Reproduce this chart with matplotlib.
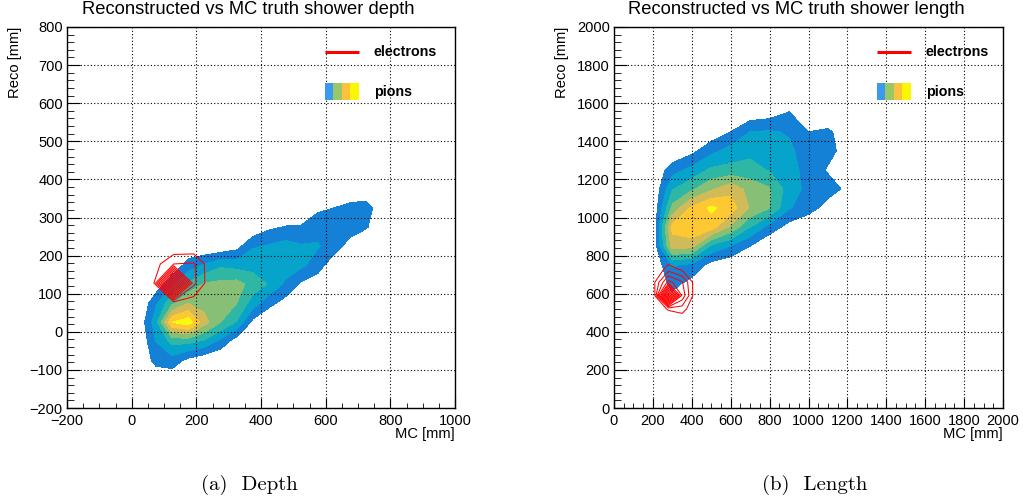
#!/usr/bin/env python3
"""Reconstructed vs MC truth shower depth / length, pions (filled) and electrons (lines)."""

import matplotlib

matplotlib.use("Agg")
import matplotlib.pyplot as plt
from matplotlib.patches import Rectangle
from matplotlib.ticker import MultipleLocator

plt.rcParams["font.family"] = ["Liberation Sans", "DejaVu Sans"]

# Filled contour bands for pions (kBird steps) and the line levels for electrons.
PION_LEVELS = [1, 2, 3, 4, 5, 6, 7, 100]
PION_COLORS = ["#1481d6", "#06a4ca", "#2eb7a4", "#87bf77", "#d1bb59", "#fec832", "#f9fb0e"]
ELECTRON_LEVELS = [8, 16, 24, 32, 40, 48, 56, 64, 72, 80, 88, 96]
SWATCH_COLORS = ["#3a9af0", "#98c868", "#fbc23f", "#fbf700"]

# --- shower depth, pions (bin centres in mm, contents in contour-level units)
DEPTH_PION_X = [25, 75, 125, 175, 225, 275, 325, 375, 425, 475, 525, 575, 625, 675, 725, 775]
DEPTH_PION_Y = [-125, -75, -25, 25, 75, 125, 175, 225, 275, 325, 375]
DEPTH_PION_Z = [
    [0, 0.1, 0.2, 0, 0, 0, 0, 0, 0, 0, 0, 0, 0, 0, 0, 0],
    [0, 1.4, 1.6, 0.7, 0.2, 0, 0, 0, 0, 0, 0, 0, 0, 0, 0, 0],
    [0.1, 2.0, 3.3, 3.3, 2.8, 1.7, 0.4, 0, 0, 0, 0, 0, 0, 0, 0, 0],
    [0.3, 2.6, 7.0, 7.6, 5.4, 4.0, 2.9, 0.7, 0, 0, 0, 0, 0, 0, 0, 0],
    [0, 1.8, 3.8, 5.0, 4.6, 4.6, 4.0, 2.5, 1.3, 0.6, 0, 0, 0, 0, 0, 0],
    [0, 0.3, 1.8, 3.2, 4.1, 4.3, 4.4, 3.6, 2.9, 1.8, 0.8, 0.4, 0, 0, 0, 0],
    [0, 0, 0.2, 1.4, 2.1, 2.8, 2.6, 2.6, 2.8, 2.6, 2.2, 1.5, 0.3, 0, 0, 0],
    [0, 0, 0, 0.2, 0, 0.1, 0.6, 1.9, 2.1, 2.4, 2.1, 2.1, 1.6, 0.5, 0.1, 0],
    [0, 0, 0, 0, 0, 0, 0, 0.1, 0.8, 1.05, 1.1, 1.6, 1.8, 1.6, 1.1, 0.3],
    [0, 0, 0, 0, 0, 0, 0, 0, 0, 0.1, 0.1, 0.8, 1.0, 1.3, 1.4, 0.4],
    [0, 0, 0, 0, 0, 0, 0, 0, 0, 0, 0, 0, 0.1, 0.2, 0.3, 0],
]

# --- shower depth, electrons
DEPTH_ELEC_X = [6, 68, 130, 192, 254]
DEPTH_ELEC_Y = [28, 78, 128, 178, 228]
DEPTH_ELEC_Z = [
    [0, 0, 0, 0, 0],
    [0, 0, 7, 4, 0],
    [0, 7, 100, 18, 0],
    [0, 4, 16, 17, 0],
    [0, 0, 0, 0, 0],
]

# --- shower length, pions
LENGTH_PION_X = [200, 300, 400, 500, 600, 700, 800, 900, 1000, 1100, 1200]
LENGTH_PION_Y = [450, 550, 650, 750, 850, 950, 1050, 1150, 1250, 1350, 1450, 1550, 1650]
LENGTH_PION_Z = [
    [0, 0, 0, 0, 0, 0, 0, 0, 0, 0, 0],
    [0, 0.5, 0, 0, 0, 0, 0, 0, 0, 0, 0],
    [0, 1.3, 0.6, 0, 0, 0, 0, 0, 0, 0, 0],
    [0, 2.1, 1.7, 0.6, 0.2, 0, 0, 0, 0, 0, 0],
    [0, 5.5, 5.3, 2.8, 2.0, 1.0, 0, 0, 0, 0, 0],
    [0, 6.3, 6.9, 6.5, 4.8, 3.0, 1.6, 0.6, 0.2, 0, 0],
    [0, 4.3, 6.2, 7.2, 6.5, 4.9, 4.0, 2.1, 1.4, 0.6, 0],
    [0, 2.9, 3.8, 4.8, 5.7, 4.6, 4.1, 2.5, 1.7, 1.4, 0.8],
    [0, 1.6, 2.3, 3.2, 3.3, 3.4, 2.9, 2.4, 1.6, 0.9, 0.7],
    [0, 0, 0.7, 1.7, 2.4, 2.7, 2.4, 2.2, 1.5, 1.3, 0.6],
    [0, 0, 0, 0.3, 1.0, 2.0, 2.1, 1.9, 1.0, 1.1, 0.7],
    [0, 0, 0, 0, 0, 0.3, 0.5, 1.05, 0, 0.5, 0],
    [0, 0, 0, 0, 0, 0, 0, 0, 0, 0, 0],
]

# --- shower length, electrons
LENGTH_ELEC_X = [140, 210, 280, 350, 420]
LENGTH_ELEC_Y = [450, 520, 590, 660, 730, 800]
LENGTH_ELEC_Z = [
    [0, 0, 0, 0, 0],
    [0, 2, 9, 12, 0],
    [0, 8, 100, 30, 2],
    [0, 8, 35, 25, 3],
    [0, 0, 12, 6, 0],
    [0, 0, 0, 0, 0],
]

FIG_W, FIG_H = 1023, 504


def PxRect(left, top, right, bottom):
    return [left / FIG_W, 1 - bottom / FIG_H, (right - left) / FIG_W, (bottom - top) / FIG_H]


def DrawPanel(ax, px, py, pz, ex, ey, ez, xlim, ylim, ymaj_step, ymin_step, legx):
    ax.contourf(px, py, pz, levels=PION_LEVELS, colors=PION_COLORS, zorder=1)
    ax.contour(ex, ey, ez, levels=ELECTRON_LEVELS, colors="#ff0000",
               linewidths=0.75, zorder=4)

    ax.set_xlim(*xlim)
    ax.set_ylim(*ylim)
    ax.xaxis.set_major_locator(MultipleLocator(200))
    ax.xaxis.set_minor_locator(MultipleLocator(50))
    ax.yaxis.set_major_locator(MultipleLocator(ymaj_step))
    ax.yaxis.set_minor_locator(MultipleLocator(ymin_step))
    ax.tick_params(axis="both", which="both", direction="in", top=False, right=False,
                   labelsize=10.5, colors="black")
    ax.tick_params(axis="x", which="major", length=7, pad=4)
    ax.tick_params(axis="x", which="minor", length=3.6)
    ax.tick_params(axis="y", which="major", length=9, pad=3)
    ax.tick_params(axis="y", which="minor", length=4.8)
    ax.set_axisbelow(False)
    ax.grid(which="major", color="black", linestyle=(0, (1, 2)), linewidth=0.8)
    for s in ax.spines.values():
        s.set_linewidth(1.0)
        s.set_zorder(5)

    ax.text(-0.134, 1.0, "Reco [mm]", rotation=90, ha="center", va="top",
            fontsize=10.6, transform=ax.transAxes)
    ax.text(1.0, -0.067, "MC [mm]", ha="right", va="center",
            fontsize=10.6, transform=ax.transAxes)

    # hand-made legend, like the ROOT TLegend without frame
    ax.plot([legx, legx + 0.087], [0.934, 0.934], color="#ff0000", linewidth=2.2,
            transform=ax.transAxes, zorder=6, solid_capstyle="butt")
    ax.text(legx + 0.126, 0.934, "electrons", fontweight="bold", fontsize=10.3,
            ha="left", va="center", transform=ax.transAxes)
    sw = 0.087 / len(SWATCH_COLORS)
    for i, c in enumerate(SWATCH_COLORS):
        ax.add_patch(Rectangle((legx + i * sw, 0.808), sw, 0.044, facecolor=c,
                               edgecolor="none", transform=ax.transAxes, zorder=6))
    ax.text(legx + 0.126, 0.829, "pions", fontweight="bold", fontsize=10.3,
            ha="left", va="center", transform=ax.transAxes)


fig = plt.figure(figsize=(FIG_W / 100, FIG_H / 100), dpi=100)

ax1 = fig.add_axes(PxRect(67, 27, 455, 408))
DrawPanel(ax1, DEPTH_PION_X, DEPTH_PION_Y, DEPTH_PION_Z,
          DEPTH_ELEC_X, DEPTH_ELEC_Y, DEPTH_ELEC_Z,
          (-200, 1000), (-200, 800), 100, 20, 0.665)

ax2 = fig.add_axes(PxRect(614, 27, 1003, 408))
DrawPanel(ax2, LENGTH_PION_X, LENGTH_PION_Y, LENGTH_PION_Z,
          LENGTH_ELEC_X, LENGTH_ELEC_Y, LENGTH_ELEC_Z,
          (0, 2000), (0, 2000), 200, 40, 0.676)

fig.text(248.5 / FIG_W, 1 - 10 / FIG_H, "Reconstructed vs MC truth shower depth",
         ha="center", va="center", fontsize=13.2)
fig.text(796 / FIG_W, 1 - 10 / FIG_H, "Reconstructed vs MC truth shower length",
         ha="center", va="center", fontsize=13.2)

fig.text(249 / FIG_W, 1 - 485 / FIG_H, "(a)  Depth", ha="center", va="center",
         fontsize=15, family="cmr10")
fig.text(815 / FIG_W, 1 - 485 / FIG_H, "(b)  Length", ha="center", va="center",
         fontsize=15, family="cmr10")

fig.savefig("out.png", dpi=100)
